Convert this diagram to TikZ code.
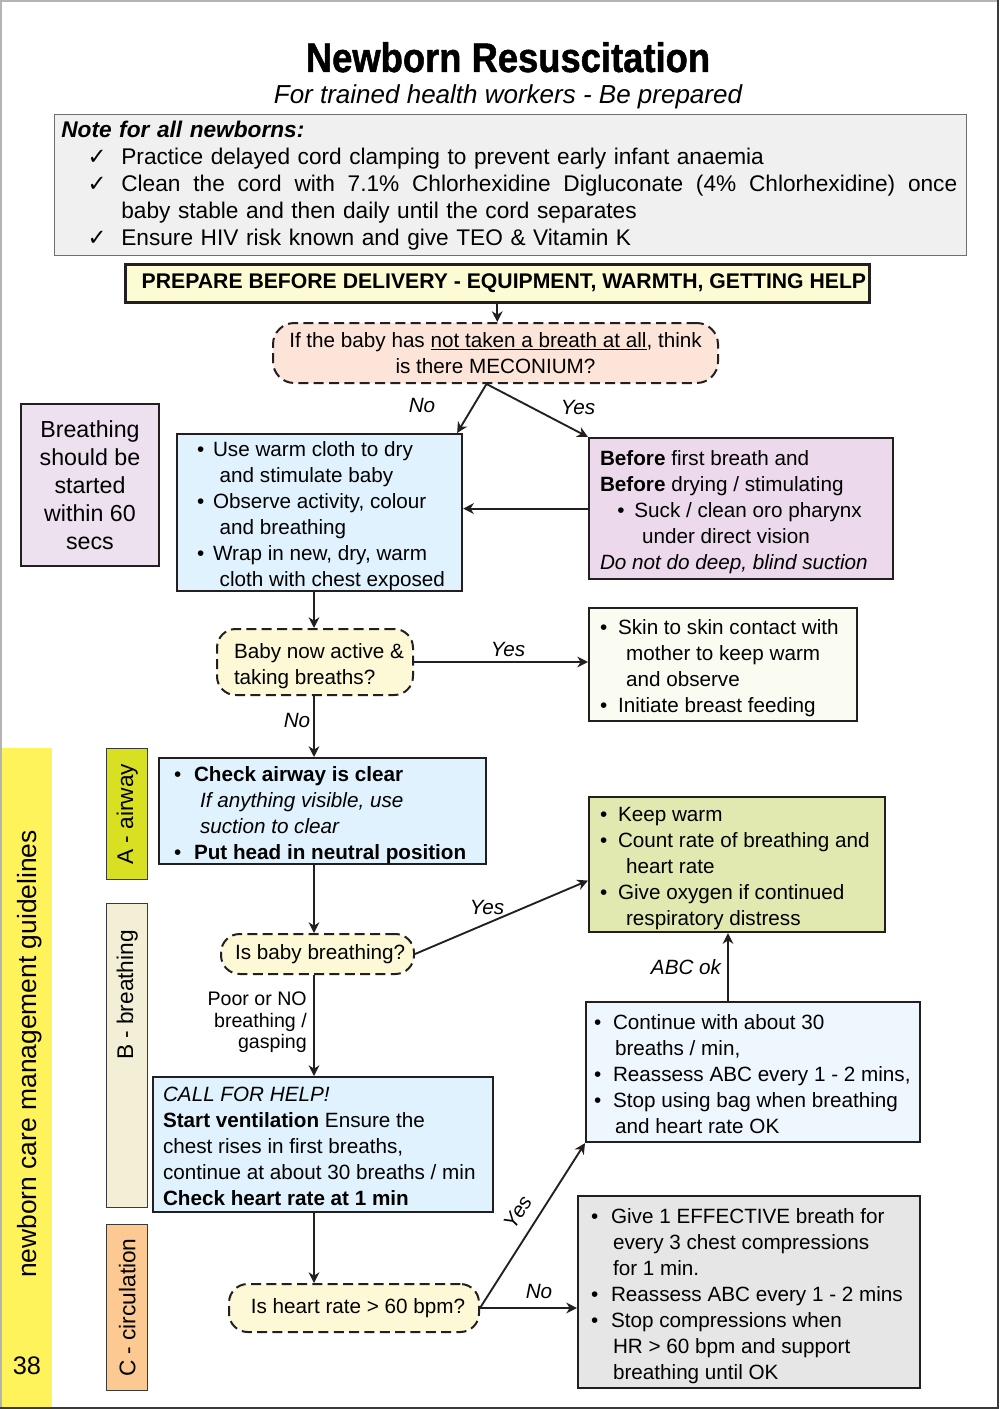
\documentclass[tikz,border=0pt]{standalone}
\usepackage{fontspec}
\setmainfont{Liberation Sans}
\newfontfamily\symfont{DejaVu Sans}
\newfontfamily\heavyfont[FakeBold=1.2,FakeStretch=0.88]{Liberation Sans Bold}
\usetikzlibrary{arrows.meta,calc}

\definecolor{ink}{HTML}{231F20}
\definecolor{notefill}{HTML}{F0F0F0}
\definecolor{noteline}{HTML}{6E6E6E}
\definecolor{prepfill}{HTML}{FDFBD3}
\definecolor{mecfill}{HTML}{FDE4D8}
\definecolor{lavfill}{HTML}{EDE0EF}
\definecolor{bluefill}{HTML}{DFF2FD}
\definecolor{pinkfill}{HTML}{ECD9EB}
\definecolor{qfill}{HTML}{FDF9D6}
\definecolor{skinfill}{HTML}{FBFCF1}
\definecolor{greenfill}{HTML}{E1E9B1}
\definecolor{contfill}{HTML}{EEF7FD}
\definecolor{grayfill}{HTML}{E6E6E6}
\definecolor{afill}{HTML}{D8E021}
\definecolor{bfill}{HTML}{F3EED6}
\definecolor{cfill}{HTML}{FCC992}
\definecolor{stripfill}{HTML}{FFF35C}
\definecolor{framelight}{HTML}{B4B4B4}
\definecolor{framedark}{HTML}{3A3A3A}

% bullet with fixed box, and hanging indent for continuation lines
\newcommand\bul[1][14pt]{\makebox[#1][l]{\textbullet}}
\newcommand\cnt[1][19pt]{\hspace*{#1}}
\newcommand\chk{\leavevmode\llap{{\symfont ✓}\hspace{11pt}}}
% left-aligned block of fixed lines, in a box of the given width, set a little low
\newcommand\lines[2]{\raisebox{-3pt}[\height][\depth]{\makebox[#1][l]{\begin{tabular}{@{}l@{}}#2\end{tabular}}}}

\tikzset{
  box/.style={draw=ink, line width=1.6pt, anchor=north west, inner ysep=0pt,
    font=\fontsize{15.5pt}{19.5pt}\selectfont},
  qbox/.style={draw=ink, line width=1.5pt, dash pattern=on 7.5pt off 4pt,
    rounded corners=14pt, anchor=north west, inner ysep=0pt, inner xsep=2pt,
    fill=qfill, font=\fontsize{15.5pt}{19.5pt}\selectfont},
  bar/.style={draw=framedark, line width=1pt, anchor=north west,
    minimum width=30.75pt, inner sep=0pt, font=\fontsize{17pt}{19pt}\selectfont},
  arr/.style={draw=ink, line width=1.4pt, -{Stealth[length=8pt,width=8pt,inset=2.5pt]}},
  lbl/.style={font=\fontsize{15.5pt}{19pt}\selectfont\itshape, inner sep=0pt},
}

\begin{document}
\begin{tikzpicture}[x=0.75pt,y=-0.75pt]
\useasboundingbox (0,0) rectangle (1000,1409);
\fill[white] (0,0) rectangle (1000,1409);

% side strip
\node[fill=stripfill, anchor=north west, minimum width=39pt, minimum height=495pt, inner sep=0pt] (strip) at (0,748) {};
\node[font=\fontsize{19.8pt}{22pt}\selectfont, rotate=90] (striptext) at (30,1054) {newborn care management guidelines};
\node[font=\fontsize{19pt}{22pt}\selectfont] (pageno) at (27,1366) {38};

% page frame
\draw[framelight, line width=1.5pt] (0.7,1408) -- (0.7,0.7) -- (998,0.7);
\draw[framedark, line width=1.5pt] (998,0) -- (998,1407.5) -- (0,1407.5);

% title
\node[font=\fontsize{31pt}{33pt}\heavyfont, anchor=base] (title) at (508,72) {Newborn Resuscitation};
\node[font=\fontsize{19.5pt}{22pt}\selectfont\itshape, anchor=base] (subtitle) at (508,104) {For trained health workers - Be prepared};

% note
\node[draw=noteline, line width=1pt, fill=notefill, anchor=north west, minimum width=684pt,
  minimum height=105.75pt, inner xsep=3.75pt, inner ysep=0pt, text width=674pt,
  font=\fontsize{17pt}{20.25pt}\selectfont] (note) at (54,114) {%
\parindent=0pt\hyphenpenalty=10000
\textbf{\textit{Note for all newborns:}}\par
\leftskip=45pt
\chk Practice delayed cord clamping to prevent early infant anaemia\par
\chk \makebox[627pt][l]{Clean\hfill the\hfill cord\hfill with\hfill 7.1\%\hfill Chlorhexidine\hfill Digluconate\hfill (4\%\hfill Chlorhexidine)\hfill once}\\
baby stable and then daily until the cord separates\par
\chk Ensure HIV risk known and give TEO \& Vitamin K\par};

% prepare
\node[box, fill=prepfill, line width=1.9pt, minimum width=558pt, minimum height=28.5pt, inner xsep=0pt,
  font=\fontsize{15.9pt}{18pt}\selectfont\bfseries] (prep) at (124,263)
  {\hspace*{10pt}PREPARE BEFORE DELIVERY - EQUIPMENT, WARMTH, GETTING HELP};

% meconium question
\node[qbox, fill=mecfill, rounded corners=16pt, minimum width=333.75pt, minimum height=45pt, align=center] (mec) at (272,322)
  {If the baby has \underline{not taken a breath at all}, think\\is there MECONIUM?};

% timing reminder
\node[box, fill=lavfill, line width=1.5pt, minimum width=103.5pt, minimum height=121.5pt, align=center,
  font=\fontsize{17.4pt}{21pt}\selectfont] (timing) at (20,403)
  {Breathing\\should be\\started\\within 60\\secs};

% dry and stimulate
\node[box, fill=bluefill, minimum width=213.75pt, minimum height=117.75pt, inner xsep=15pt] (dry) at (176,433)
  {\lines{183.75pt}{\bul[12pt]Use warm cloth to dry\\
   \cnt[17pt]and stimulate baby\\
   \bul[12pt]Observe activity, colour\\
   \cnt[17pt]and breathing\\
   \bul[12pt]Wrap in new, dry, warm\\
   \cnt[17pt]cloth with chest exposed}};

% suction
\node[box, fill=pinkfill, minimum width=228pt, minimum height=105.75pt, inner xsep=8.25pt] (suck) at (588,437)
  {\lines{211.5pt}{\textbf{Before} first breath and\\
   \textbf{Before} drying / stimulating\\
   \hspace*{13pt}\bul[12.75pt]Suck / clean oro pharynx\\
   \hspace*{31.5pt}under direct vision\\
   \textit{Do not do deep, blind suction}}};

% active?
\node[qbox, minimum width=147pt, minimum height=49.5pt, inner xsep=12.75pt] (active) at (216,628)
  {\lines{121.5pt}{Baby now active \&\\taking breaths?}};

% skin to skin
\node[box, fill=skinfill, minimum width=201pt, minimum height=84.75pt, inner xsep=8.25pt] (skin) at (588,607)
  {\lines{184.5pt}{\bul[13.5pt]Skin to skin contact with\\
   \cnt[19.5pt]mother to keep warm\\
   \cnt[19.5pt]and observe\\
   \bul[13.5pt]Initiate breast feeding}};

% phase bars
\node[bar, fill=afill, minimum height=98.25pt] (abar) at (106,748) {\rotatebox{90}{A - airway}};
\node[bar, fill=bfill, minimum height=228pt] (bbar) at (106,903) {\rotatebox{90}{\hspace*{91pt}B - breathing}};
\node[bar, fill=cfill, minimum height=124.5pt] (cbar) at (106,1224) {\rotatebox{90}{C - circulation}};

% airway
\node[box, fill=bluefill, minimum width=245.25pt, minimum height=79.5pt, inner xsep=11.25pt] (airway) at (158,757)
  {\lines{222.75pt}{\bul[15pt]\textbf{Check airway is clear}\\
   \cnt[19.5pt]\textit{If anything visible, use}\\
   \cnt[19.5pt]\textit{suction to clear}\\
   \bul[15pt]\textbf{Put head in neutral position}}};

% breathing?
\node[qbox, minimum width=144.75pt, minimum height=30pt, align=center] (breath) at (220,933) {\hspace*{4pt}Is baby breathing?};

% keep warm
\node[box, fill=greenfill, minimum width=222pt, minimum height=101.25pt, inner xsep=8.25pt] (green) at (588,796)
  {\lines{205.5pt}{\bul[13.5pt]Keep warm\\
   \bul[13.5pt]Count rate of breathing and\\
   \cnt[19.5pt]heart rate\\
   \bul[13.5pt]Give oxygen if continued\\
   \cnt[19.5pt]respiratory distress}};

% ventilation
\node[box, fill=bluefill, minimum width=255pt, minimum height=101.25pt, inner xsep=7.5pt] (vent) at (152,1076)
  {\lines{240pt}{\textit{CALL FOR HELP!}\\
   \textbf{Start ventilation} Ensure the\\
   chest rises in first breaths,\\
   continue at about 30 breaths / min\\
   \textbf{Check heart rate at 1 min}}};

% heart rate?
\node[qbox, minimum width=187.5pt, minimum height=36pt, align=center] (hr) at (228,1283) {\hspace*{6pt}Is heart rate > 60 bpm?};

% continue ventilation
\node[box, fill=contfill, minimum width=250.5pt, minimum height=105pt, inner xsep=6pt] (cont) at (585,1001)
  {\lines{238.5pt}{\bul[14.25pt]Continue with about 30\\
   \cnt[15.75pt]breaths / min,\\
   \bul[14.25pt]Reassess ABC every 1 - 2 mins,\\
   \bul[14.25pt]Stop using bag when breathing\\
   \cnt[15.75pt]and heart rate OK}};

% compressions
\node[box, fill=grayfill, minimum width=256.5pt, minimum height=144pt, inner xsep=9.75pt] (comp) at (577,1195)
  {\lines{237pt}{\bul[15pt]Give 1 EFFECTIVE breath for\\
   \cnt[16.5pt]every 3 chest compressions\\
   \cnt[16.5pt]for 1 min.\\
   \bul[15pt]Reassess ABC every 1 - 2 mins\\
   \bul[15pt]Stop compressions when\\
   \cnt[16.5pt]HR > 60 bpm and support\\
   \cnt[16.5pt]breathing until OK}};

% connectors
\coordinate (spine) at (314,0);
\coordinate (abc) at (728,0);
\coordinate (mecb) at ($(mec.south)+(-9,0)$);
\draw[arr] (prep.south) -- (prep.south |- mec.north);
\draw[arr] (mecb) -- ($(dry.north east)+(-6,0)$);
\draw[arr] (mecb) -- (suck.north west);
\draw[arr] (suck.west) -- (suck.west -| dry.east);
\draw[arr] (spine |- dry.south) -- (spine |- active.north);
\draw[arr] (active.east) -- (active.east -| skin.west);
\draw[arr] (spine |- active.south) -- (spine |- airway.north);
\draw[arr] (spine |- airway.south) -- (spine |- breath.north);
\draw[arr] (breath.east) -- ($(green.west)+(0,16)$);
\draw[arr] (spine |- breath.south) -- (spine |- vent.north);
\draw[arr] (spine |- vent.south) -- (spine |- hr.north);
\draw[arr] (hr.east) -- (cont.south west);
\draw[arr] (hr.east) -- (hr.east -| comp.west);
\draw[arr] (abc |- cont.north) -- (abc |- green.south);

% connector labels
\node[lbl] (lno1) at (422,405) {No};
\node[lbl] (lyes1) at (578,407) {Yes};
\node[lbl] (lyes2) at (508,649) {Yes};
\node[lbl] (lno2) at (297,720) {No};
\node[lbl] (lyes3) at (487,907) {Yes};
\node[lbl, font=\fontsize{14.7pt}{16pt}\selectfont, anchor=north east, align=right] (lpoor) at (307,992)
  {Poor or NO\\breathing /\\gasping};
\node[lbl] (labc) at (686,967) {ABC ok};
\node[lbl, rotate=57] (lyes4) at (518,1212) {Yes};
\node[lbl] (lno3) at (539,1291) {No};
\end{tikzpicture}
\end{document}
